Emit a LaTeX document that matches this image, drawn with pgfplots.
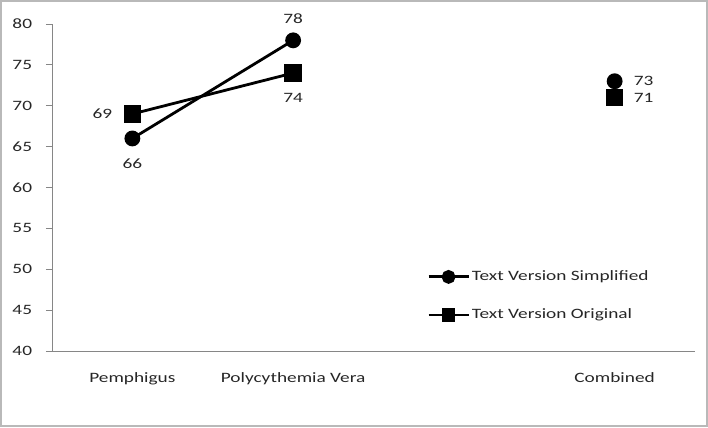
\documentclass[border=0pt]{standalone}
\usepackage{pgfplots}
\pgfplotsset{compat=1.18}
\usepackage{fontspec}
\setmainfont{Carlito}[FakeStretch=1.35]
\definecolor{axgray}{HTML}{868686}
\definecolor{txt}{HTML}{262626}
\newcommand{\lblfont}{\fontsize{14.3bp}{17bp}\selectfont}
\begin{document}
\lblfont
\begin{tikzpicture}[x=1bp,y=1bp]
\draw[draw=gray!55, line width=2bp] (1,1) rectangle (707,426);
\useasboundingbox (0,0) rectangle (708,427);
\begin{axis}[
  at={(52bp,76bp)}, anchor=south west,
  scale only axis, width=643bp, height=327bp,
  xmin=-0.5, xmax=3.5, ymin=40, ymax=80,
  axis x line=bottom, axis y line=left,
  axis line style={draw=axgray, line width=0.8bp, -},
  xtick={0,1,2,3}, xticklabels={Pemphigus,Polycythemia Vera,{},Combined},
  x tick style={draw=none},
  extra x ticks={-0.5,0.5,1.5,2.5,3.5}, extra x tick labels={},
  extra x tick style={tick style={draw=axgray, line width=0.8bp}, major tick length=6bp, tick align=outside},
  ytick={40,45,...,80},
  y tick style={draw=axgray, line width=0.8bp},
  major tick length=6bp, tick align=outside,
  tick label style={text=txt, font=\lblfont},
  /pgf/number format/assume math mode=true,
  xticklabel style={yshift=-11bp},
  yticklabel style={xshift=-9bp},
  unbounded coords=jump,
  legend style={draw=none, fill=none, at={(0.5785,0.079)}, anchor=south west,
    font=\lblfont, text=txt, row sep=22bp, legend cell align=left,
    nodes={inner xsep=2bp}},
  legend image code/.code={\draw[#1, line width=2.8bp] (0bp,0bp) -- (40bp,0bp); \draw[#1, only marks, mark size=5.5bp] plot coordinates {(20bp,0bp)};},
  nodes near coords,
  visualization depends on={value \thisrow{dx} \as \dx},
  visualization depends on={value \thisrow{dy} \as \dy},
  every node near coord/.append style={anchor=center, xshift=\dx bp, yshift=\dy bp, text=txt, font=\lblfont},
  point meta=explicit,
]
\addplot[black, line width=2.8bp, mark=*, mark size=6.5bp] table[x=x, y=y, meta=y] {
x y dx dy
0 66 0 -25
1 78 0 22
2 nan 0 0
3 73 29 0
};
\addlegendentry{Text Version Simplified}
\addplot[black, line width=2.8bp, mark=square*, mark size=7.3bp] table[x=x, y=y, meta=y] {
x y dx dy
0 69 -30 0
1 74 0 -25
2 nan 0 0
3 71 29 0
};
\addlegendentry{Text Version Original}
\end{axis}
\end{tikzpicture}
\end{document}
